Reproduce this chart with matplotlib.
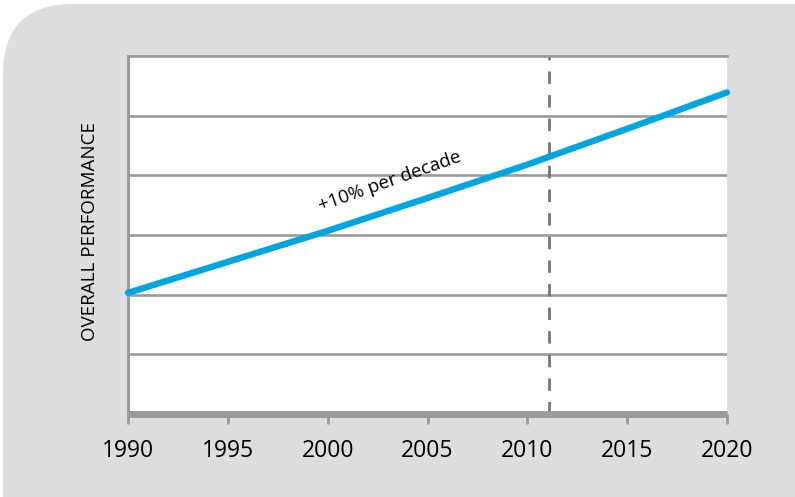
import matplotlib.pyplot as plt
from matplotlib.patches import FancyBboxPatch

# ---------------------------------------------------
# Data
# ---------------------------------------------------

years = [1990, 1995, 2000, 2005, 2010, 2015, 2020]
performance = [2.03, 2.55, 3.07, 3.62, 4.18, 4.78, 5.39]
x_ticks = [1990, 1995, 2000, 2005, 2010, 2015, 2020]
grid_levels = [1, 2, 3, 4, 5]
marker_year = 2011.1
note_text = "+10% per decade"
y_label = "OVERALL PERFORMANCE"

plt.rcParams["font.family"] = ["Open Sans", "DejaVu Sans"]

GRID = "#9a9a9a"
BLUE = "#00a6e2"
PANEL = "#dcdddf"

fig = plt.figure(figsize=(7.95, 4.97), dpi=100, facecolor="white")

# grey panel with rounded top-left corner
panel = FancyBboxPatch(
    (0.03, -1.0), 10.0, 4.93 + 1.0,
    boxstyle="round,pad=0,rounding_size=0.7",
    transform=fig.dpi_scale_trans,
    facecolor=PANEL, edgecolor="none", zorder=-10,
)
fig.patches.append(panel)

ax = fig.add_axes([128 / 795, 1 - 414 / 497, 599 / 795, 358 / 497])
ax.set_zorder(1)
ax.set_facecolor("white")

for lvl in grid_levels:
    ax.axhline(lvl, color=GRID, lw=1.9, zorder=1)

ax.axvline(marker_year, color="#777777", lw=2.0, dashes=(4.5, 4), zorder=2)

ax.plot(years, performance, color=BLUE, lw=4.6, solid_capstyle="round",
        zorder=3, clip_on=False)

ax.text(2003.1, 3.89, note_text, rotation=19.5, ha="center", va="center",
        fontsize=13.5, color="black", zorder=4)

ax.set_xlim(1990, 2020)
ax.set_ylim(0, 6)

ax.set_xticks(x_ticks)
ax.set_xticklabels([str(t) for t in x_ticks], fontsize=16.5)
ax.set_yticks([])
ax.tick_params(axis="x", length=7, width=2, color=GRID, pad=11)

ax.spines["right"].set_visible(False)
ax.spines["left"].set_color(GRID)
ax.spines["left"].set_linewidth(2.2)
ax.spines["top"].set_color(GRID)
ax.spines["top"].set_linewidth(1.9)
ax.spines["bottom"].set_color(GRID)
ax.spines["bottom"].set_linewidth(5.0)
ax.spines["bottom"].set_capstyle("butt")

ax.text(-0.064, 0.51, y_label, transform=ax.transAxes, rotation=90,
        ha="center", va="center", fontsize=13.5)

fig.savefig("out.png", dpi=100, facecolor=fig.get_facecolor())
